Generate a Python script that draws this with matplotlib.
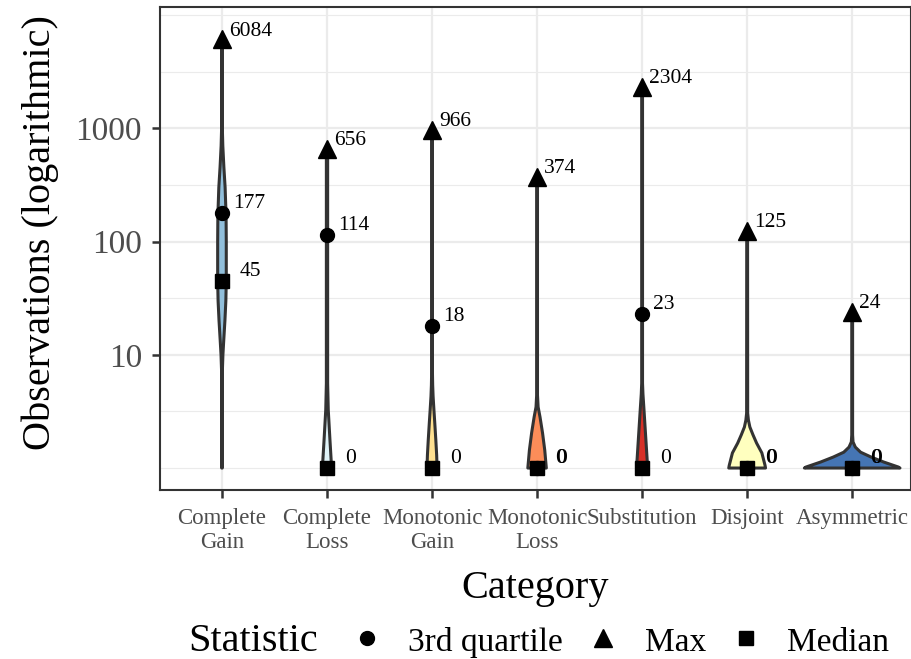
#!/usr/bin/env python3
"""
Violin plot of observations per category on a log scale, with the
max, 3rd quartile and median of each category marked and labelled.
"""

import matplotlib
matplotlib.use("Agg")
import matplotlib.pyplot as plt
from matplotlib.lines import Line2D
from matplotlib.ticker import FixedLocator, NullFormatter

plt.rcParams['font.family'] = ['Liberation Serif', 'DejaVu Serif']

categories = ["Complete\nGain", "Complete\nLoss", "Monotonic\nGain", "Monotonic\nLoss",
              "Substitution", "Disjoint", "Asymmetric"]
max_vals = [6084, 656, 966, 374, 2304, 125, 24]
q3_vals = [177, 114, 18, 0, 23, 0, 0]
median_vals = [45, 0, 0, 0, 0, 0, 0]
fill_colors = ["#91BFDB", "#E0F3F8", "#FEE090", "#FC8D59", "#D73027", "#FFFFBF", "#4575B4"]

violin_levels = [
    [1, 7.3, 10, 13.5, 20, 30, 45, 100, 171, 300, 456, 700, 960, 6084],
    [1, 1.77, 3.25, 5.6, 656],
    [1, 1.3, 1.77, 2.5, 3.25, 4.3, 5.4, 6.9, 966],
    [1, 1.44, 2.04, 2.82, 3.46, 4.4, 374],
    [1, 1.77, 3.25, 4.5, 5.6, 2304],
    [1, 1.06, 1.36, 1.66, 1.96, 2.3, 2.65, 3.05, 125],
    [1, 1.02, 1.13, 1.25, 1.38, 1.53, 1.70, 1.96, 24],
]
violin_widths = [
    [0.003, 0.004, 0.009, 0.017, 0.028, 0.037, 0.041, 0.041, 0.039, 0.03, 0.018, 0.008, 0.004, 0.003],
    [0.044, 0.028, 0.012, 0.006, 0.006],
    [0.048, 0.044, 0.036, 0.026, 0.018, 0.01, 0.006, 0.004, 0.004],
    [0.088, 0.073, 0.052, 0.028, 0.01, 0.004, 0.004],
    [0.053, 0.036, 0.018, 0.008, 0.004, 0.004],
    [0.175, 0.17, 0.14, 0.09, 0.056, 0.026, 0.012, 0.005, 0.004],
    [0.455, 0.44, 0.30, 0.18, 0.08, 0.03, 0.008, 0.004, 0.004],
]

legend_labels = ["3rd quartile", "Max", "Median"]

DARK = "#333333"
GRID = "#EBEBEB"


def plot_pos(v):
    """Zero counts sit at 1 on the log axis."""
    return max(v, 1)


def draw_violins(ax):
    for i, (lev, wid, col) in enumerate(zip(violin_levels, violin_widths, fill_colors)):
        xs = [i - w for w in wid] + [i + w for w in wid[::-1]]
        ys = list(lev) + list(lev[::-1])
        ax.fill(xs, ys, facecolor=col, edgecolor=DARK, linewidth=2.2,
                joinstyle='round', zorder=2)


def draw_stats(ax):
    x = range(len(categories))
    ax.plot(x, [plot_pos(v) for v in q3_vals], 'o', color='black', ms=10, zorder=4)
    ax.plot(x, [plot_pos(v) for v in max_vals], '^', color='black', ms=13, zorder=4)
    ax.plot(x, [plot_pos(v) for v in median_vals], 's', color='black', ms=10.5, zorder=4)

    label_kw = dict(textcoords='offset points', fontsize=15.5, ha='left', va='center', zorder=5)
    for i in x:
        ax.annotate(str(max_vals[i]), (i, plot_pos(max_vals[i])), xytext=(5, 6), **label_kw)
        ax.annotate(str(median_vals[i]), (i, plot_pos(median_vals[i])), xytext=(13, 7), **label_kw)
        if q3_vals[i] == median_vals[i]:
            off = (13.5, 7)
        else:
            off = (8, 7)
        ax.annotate(str(q3_vals[i]), (i, plot_pos(q3_vals[i])), xytext=off, **label_kw)


def draw_legend(fig):
    base = 1 - 651 / 659
    fig.text(188 / 912, base, "Statistic", fontsize=29, va='baseline', ha='left')
    marker_x = [367, 603, 746]
    text_x = [408, 645, 787]
    markers = ['o', '^', 's']
    sizes = [10, 13, 10.5]
    y = 1 - 638 / 659
    for lab, mk, ms, mx, tx in zip(legend_labels, markers, sizes, marker_x, text_x):
        fig.add_artist(Line2D([mx / 912], [y], marker=mk, ms=ms, color='black',
                              linestyle='', transform=fig.transFigure))
        fig.text(tx / 912, base, lab, fontsize=24, va='baseline', ha='left')


def main():
    fig = plt.figure(figsize=(9.12, 6.59), dpi=100)
    ax = fig.add_axes([160 / 912, 1 - 490 / 659, 751 / 912, 483 / 659])

    ax.set_yscale('log')
    ax.set_ylim(10 ** -0.194, 10 ** 4.071)
    ax.set_xlim(-0.59, 6.56)

    ax.set_yticks([10, 100, 1000])
    ax.set_yticklabels(['10', '100', '1000'])
    ax.yaxis.set_minor_locator(FixedLocator([1, 10 ** 0.5, 10 ** 1.5, 10 ** 2.5, 10 ** 3.5, 10 ** 4]))
    ax.yaxis.set_minor_formatter(NullFormatter())
    ax.set_xticks(range(len(categories)))
    ax.set_xticklabels(categories, fontsize=16.5, color='#4D4D4D', linespacing=1.2)

    ax.tick_params(axis='y', which='major', labelsize=24, labelcolor='#4D4D4D',
                   length=6, width=1.8, color=DARK, pad=7)
    ax.tick_params(axis='x', which='major', length=6, width=1.8, color=DARK, pad=7)
    ax.tick_params(which='minor', length=0)

    ax.grid(True, which='major', color=GRID, linewidth=1.6, zorder=0)
    ax.grid(True, which='minor', axis='y', color=GRID, linewidth=0.8, zorder=0)
    ax.set_axisbelow(True)
    for sp in ax.spines.values():
        sp.set_color(DARK)
        sp.set_linewidth(1.5)

    draw_violins(ax)
    draw_stats(ax)

    ax.set_xlabel("Category", fontsize=29)
    ax.xaxis.set_label_coords(0.5, -0.165)
    ax.set_ylabel("Observations (logarithmic)", fontsize=29)
    ax.yaxis.set_label_coords(-0.134, 0.532)

    draw_legend(fig)

    fig.savefig("out.png", dpi=100)
    plt.close(fig)


if __name__ == "__main__":
    main()
